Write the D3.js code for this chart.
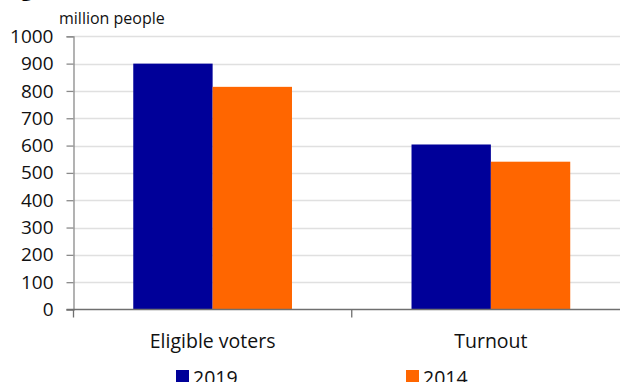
<!DOCTYPE html>
<html>
<head>
<meta charset="utf-8">
<script src="https://cdn.jsdelivr.net/npm/d3@7"></script>
<style>
  html, body { margin: 0; padding: 0; background: #fff; }
  svg { display: block; font-family: "Open Sans", "Noto Sans", sans-serif; }
</style>
</head>
<body>
<svg id="chart" width="620" height="382"></svg>
<script>
// Voters in the Indian general elections, million people
const categories = ["Eligible voters", "Turnout"];
const series = ["2019", "2014"];
const values2019 = [900, 604];
const values2014 = [815, 541];
const yTicks = [0, 100, 200, 300, 400, 500, 600, 700, 800, 900, 1000];
const colors = ["#000099", "#ff6600"];

const valuesBySeries = { "2019": values2019, "2014": values2014 };

const svg = d3.select("#chart");
const W = 620, H = 382;

const x0 = d3.scaleBand().domain(categories).range([73.5, 630]).paddingInner(0).paddingOuter(0);
const x1 = d3.scaleBand().domain(series).range([0, x0.bandwidth()]).paddingInner(0).paddingOuter(0.753);
const y = d3.scaleLinear().domain([0, 1000]).range([309.5, 36.3]);
const color = d3.scaleOrdinal().domain(series).range(colors);

// Title, partly above the visible area
svg.append("text")
  .attr("x", 2).attr("y", -4)
  .attr("font-size", 22).attr("font-weight", "bold").attr("fill", "#000")
  .text("Figure 1");

// Gridlines
svg.append("g")
  .selectAll("line")
  .data(yTicks.filter(d => d > 0))
  .join("line")
  .attr("x1", 73.5).attr("x2", W)
  .attr("y1", d => Math.round(y(d)) + 0.5).attr("y2", d => Math.round(y(d)) + 0.5)
  .attr("stroke", "#e0e0e0").attr("stroke-width", 1.3);

// Bars
const groups = svg.append("g")
  .selectAll("g")
  .data(categories)
  .join("g")
  .attr("transform", d => `translate(${x0(d)},0)`);

groups.selectAll("rect")
  .data((c, i) => series.map(s => ({ s, v: valuesBySeries[s][i] })))
  .join("rect")
  .attr("x", d => x1(d.s))
  .attr("width", x1.bandwidth())
  .attr("y", d => y(d.v))
  .attr("height", d => y(0) - y(d.v))
  .attr("fill", d => color(d.s));

// Y axis
const yAxis = svg.append("g")
  .attr("transform", "translate(73.5,0)")
  .call(d3.axisLeft(y).tickValues(yTicks).tickFormat(d3.format("d")).tickSize(7).tickPadding(13));
yAxis.select(".domain").attr("stroke", "#8a8a8a").attr("stroke-width", 1.3);
yAxis.selectAll(".tick line").attr("stroke", "#8a8a8a").attr("stroke-width", 1.3);
yAxis.selectAll(".tick text")
  .attr("font-size", 19).attr("fill", "#111")
  .attr("font-family", "'Open Sans', 'Noto Sans', sans-serif");

// X axis with ticks between categories
const boundaries = [x0.range()[0], x0(categories[1]), x0.range()[1]];
const xAxis = svg.append("g");
xAxis.append("line")
  .attr("x1", 66.5).attr("x2", W)
  .attr("y1", y(0)).attr("y2", y(0))
  .attr("stroke", "#6f6f6f").attr("stroke-width", 1.5);
xAxis.selectAll(".bt")
  .data(boundaries)
  .join("line")
  .attr("class", "bt")
  .attr("x1", d => d).attr("x2", d => d)
  .attr("y1", y(0)).attr("y2", y(0) + 8)
  .attr("stroke", "#6f6f6f").attr("stroke-width", 1.3);
xAxis.selectAll("text")
  .data(categories)
  .join("text")
  .attr("x", d => x0(d) + x0.bandwidth() / 2)
  .attr("y", 347.5)
  .attr("text-anchor", "middle")
  .attr("font-size", 19.5).attr("fill", "#111")
  .text(d => d);

// Unit label
svg.append("text")
  .attr("x", 59).attr("y", 23.5)
  .attr("font-size", 16).attr("fill", "#111")
  .text("million people");

// Legend
const legendX = [176, 406];
const legend = svg.append("g")
  .selectAll("g")
  .data(series)
  .join("g")
  .attr("transform", (d, i) => `translate(${legendX[i]},370)`);
legend.append("rect")
  .attr("width", 13).attr("height", 13)
  .attr("fill", d => color(d));
legend.append("text")
  .attr("x", 17).attr("y", 14.5)
  .attr("font-size", 19.5).attr("fill", "#111")
  .text(d => d);
</script>
</body>
</html>
